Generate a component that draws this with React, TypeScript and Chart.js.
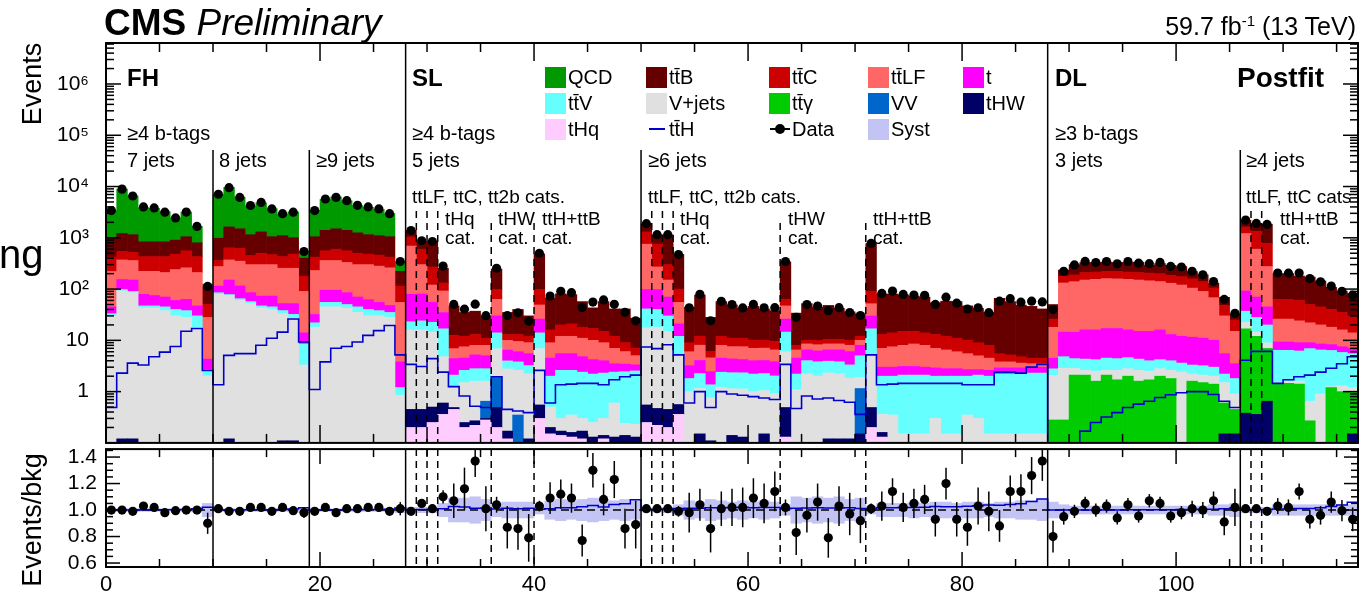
import React, { useEffect, useRef } from "react";
import { Chart, registerables } from "chart.js";

Chart.register(...registerables);

const FONT = '"Liberation Sans", Arial, Helvetica, sans-serif';
const N_BINS = 117;

// ---------- background components (events per bin), stack order bottom -> top ----------
const tHq = [
  0,0,0,0,0,0,0,0,0,0, 0,0,0,0,0,0,0,0,0, 0,0,0,0,0,0,0,0,0,
  0.2,0.2,0.25,0.36,0.45,0.2,0.22,0.28,0.2,0.12,0.1,0.1,0.3,0.15,0.14,0.13,0.12,0.1,0.12,0.1,0.1,0.1,
  0.25,0.22,0.2,0.36, 0.05,0.05,0.03,0.05,0.04,0.05,0.05,0.05,0.04, 0.13, 0,0,0,0,0,0,0, 0.2,
  0.13,0.05,0.03,0.03,0.03,0.03,0.03,0.03,0.03,0.03,0.02,0.02,0.02,0.02,0.02,0.02,
  0,0,0,0,0,0,0,0,0,0,0,0,0,0,0,0,0,0,
  0,0,0,0,0,0,0,0,0,0,0,
];
const tHW = [
  0,0.12,0.12,0,0,0,0,0,0,0, 0,0.12,0,0,0,0,0.11,0.11,0, 0,0,0,0,0,0,0,0,0,
  0.25,0.25,0.25,0.24,0.04,0.05,0.05,0.02,0.29,0.05,0,0.02,0.25,0.05,0.03,0.03,0.05,0.03,0.02,0.03,0.04,0.03,
  0.3,0.25,0.25,0.2, 0.02,0.1,0.08,0.04,0.1,0.08,0.02,0.1,0.05, 0.36, 0.03,0.02,0.02,0.12,0.12,0.12,0.15, 0.29,
  0.03,0.02,0.02,0.02,0.02,0.02,0.02,0.02,0.02,0.02,0.02,0.02,0.02,0.02,0.02,0.02,
  0,0,0,0,0,0,0,0,0,0,0,0,0,0,0,0,0.15,0.15,
  0.38,0.36,0.65,0.1,0.05,0.03,0.03,0.03,0.03,0.1,0.15,
];
const VV = [
  0,0,0,0,0,0,0,0,0,0, 0,0,0,0,0,0,0,0,0, 0,0,0,0,0,0,0,0,0,
  0,0,0,0,0,0,0,0.35,1.4,0,0.25,0,0,0,0,0,0,0,0,0,0,0,
  0,0,0,0, 0,0,0,0,0,0,0,0,0, 0, 0,0,0,0,0,0,1.0, 0,
  0,0,0,0,0,0,0,0,0,0,0,0,0,0,0,0,
  0,0,0,0,0,0,0,0,0,0,0,0,0,0,0,0,0,0,
  0,0,0,0,0,0,0,0,0,0,0,
];
const ttGamma = [
  0,0,0,0,0,0,0,0,0,0, 0,0,0,0,0,0,0,0,0, 0,0,0,0,0,0,0,0,0,
  0,0,0,0,0,0,0,0,0,0,0,0,0,0,0,0,0,0,0,0,0,0,
  0,0,0,0, 0,0,0,0,0,0,0,0,0, 0, 0,0,0,0,0,0,0, 0,
  0,0,0,0,0,0,0,0,0,0,0,0,0,0,0,0,
  0.28,0.28,2.1,2.1,1.6,2.1,1.7,2.0,1.6,1.7,2.0,1.8,0.1,1.6,1.5,1.4,0.45,0.3,
  16.4,11.6,6.3,1.35,1.4,1.37,0.24,0.07,1.17,0.9,0.85,
];
const Vjets = [
  30,92,85,43,42,38,30,28,18,2.0, 79,75,60,52,43,40,33,27,3.3, 18,45,45,42,35,30,30,28,0.85,
  15.3,15.5,14,4.2,0.69,1.25,1.33,0.95,5.0,2.6,2.25,2.1,6.35,0.3,0.13,0.19,0.13,0.12,0.16,0.47,0.1,0.1,
  17,17.5,14.5,4.4, 0.93,1.0,0.65,1.1,1.0,1.0,0.93,0.9,0.83, 5.5, 1.07,2.2,2.0,2.2,2.1,1.7,0.75, 4.6,
  0.2,0.28,0.1,0.1,0.1,0.25,0.1,0.1,0.3,0.25,0.11,0.11,0.11,0.11,0.11,0.11,
  1.8,2.57,0.75,0.5,0.9,0.5,0.9,0.8,1.0,0.8,0.8,0.8,2.3,0.6,0.6,0.6,0.9,0.45,
  5.7,2.5,2.0,0.05,0.15,0.2,0.38,0.8,0.05,0.3,0.2,
];
const ttV = [
  3,6,5,4,5,7,10,10,12,0.7, 6,3,5,5,4,5,5,5,5.2, 4,10,10,8,10,10,8,7,0.35,
  7.3,8,8,12,0.92,1.1,1.2,1.2,7.1,1.2,1.2,1.0,7.1,1.5,2.3,2.25,2.1,1.95,2.0,1.8,2.2,2.3,
  23.5,22,15,7, 0.8,1.1,0.6,1.2,1.2,1.2,1.2,1.2,1.1, 8.5, 1.1,1.8,1.8,1.6,1.6,1.5,3.1, 11.7,
  1.64,1.65,1.95,1.95,1.95,1.7,1.85,1.85,1.65,1.8,1.85,2.05,2.05,2.05,2.15,2.15,
  0.7,1.95,1.55,1.7,1.7,1.9,1.8,1.8,1.7,1.5,1.4,1.4,1.2,1.1,1.1,1.0,0.7,0.9,
  14.5,13.5,11,4.9,4.8,4.6,6.25,5.6,5.1,4.5,4.3,
];
const tSingle = [
  12,56,60,32,28,25,20,25,17,1.6, 29,72,50,28,26,28,14,20,5.5, 10,40,40,35,25,22,17,13,2.6,
  56,56,32.5,18,2.3,1.9,2.4,2.2,16,2.5,2.2,2.3,12,2.5,2.9,2.9,2.4,2.0,1.7,1.1,1.0,0.8,
  57,58,40,9, 1.4,1.8,1.1,2.1,2.0,1.9,1.8,1.8,1.8, 11.5, 2.3,2.5,2.4,2.6,2.7,2.7,3.0, 13,
  1.0,1.0,1.0,1.0,0.9,0.9,0.8,0.8,0.7,0.6,0.6,0.7,0.7,0.7,0.6,0.7,
  1.7,9.7,10,11.7,11.8,12.5,12.6,11.4,10.7,11,11.8,9,8.4,8.2,7.8,7,3.3,1.7,
  55,42,25,2.9,2.9,2.8,2.1,2.0,1.9,1.7,1.5,
];
const ttLF = [
  175,216,210,143,147,140,180,197,163,23.7, 161,220,235,215,227,227,203,203,76, 198,265,265,245,230,238,225,212,51,
  611,220,65,57,2.5,3,2.8,3,33,3.5,3.5,3.5,23,4.5,6.5,6.5,6.2,5.8,5,3.5,2.6,1.7,
  652,172,80,34, 2.8,4,2.1,3.5,3.2,3.3,3,3,2.7, 21, 2,2,2,2,2,2,2, 22,
  4,4.5,4.9,5.4,5,4.1,3.7,3.2,2.8,2.3,1.9,0.9,0.9,0.7,0.6,0.5,
  13.5,117,125,134,139,143,141,139,135,130,124,117,108,93,79,58,24.5,11.5,
  1118,530,230,16.7,16.7,15,13,11.5,9.8,8.5,7,
];
const ttC = [
  200,170,160,208,208,220,240,300,220,22, 85,270,270,150,200,170,175,225,88, 190,200,240,230,200,180,180,160,59,
  350,300,150,40,5.6,4.5,5,3,35,3,3.5,3,49,7,8,9,7,7,6,5,3,2,
  550,480,150,45, 3,4,1.5,4,3.5,3.5,3,3,3, 16, 1.5,1.5,1.8,2,2,2,2, 39,
  6,6.5,7,6.5,6,6,5.5,5,4.5,4,3.5,1.7,1.4,1.2,1.0,1.0,
  8,46,50,60,60,60,62,60,60,60,60,55,55,55,50,37,18,10,
  420,730,505,37,37,36,28,25,22,19,16,
];
const ttB = [
  580,670,630,405,405,405,420,490,370,62, 620,990,880,700,800,580,670,520,222, 630,840,900,840,750,670,640,630,108,
  360,235,565,123,34.5,23,24,19,147,22,27,18,387,51,61,57,39,26,42,29,32,20,
  570,390,840,375, 35,64,22,45,38,31,36,31,28.5, 275, 26,42,34,37.5,31.5,26,21, 679,
  67,66,62,58,56,41,46,46,37,33,27,60.5,51.8,44,41.5,36.5,
  24,57,110,120,115,115,110,115,125,87,115,105,100,60,50,26,21,8,
  560,560,1060,137,137,120,122,99,68,56,52,
];
const QCD = [
  2400,7690,5450,3045,2915,2395,1550,2120,870,13, 6020,7970,4700,3030,3500,2640,1800,2180,150, 2380,4200,4770,3850,3000,2770,2480,1930,118,
  0,0,0,0,0,0,0,0,0,0,0,0,0,0,0,0,0,0,0,0,0,0,
  0,0,0,0, 0,0,0,0,0,0,0,0,0, 0, 0,0,0,0,0,0,0, 0,
  0,0,0,0,0,0,0,0,0,0,0,0,0,0,0,0,
  0,0,0,0,0,0,0,0,0,0,0,0,0,0,0,0,0,0,
  0,0,0,0,0,0,0,0,0,0,0,
];
// ttH signal (drawn as a line, not stacked)
const ttH = [
  0.49,2.3,3.6,3.3,4.8,5.9,7.6,15,17,2.6, 1.36,5.1,5.5,5.5,8,11,14.5,26,9.3, 1.1,3.8,7,7.6,9.3,12.5,15.5,19.5,5.2,
  3.4,3.1,4.4,2.4,1.25,0.82,0.52,0.49,1.95,0.45,0.42,0.39,2.6,0.6,1.36,1.4,1.45,1.45,1.36,1.7,1.95,2.1,
  7.4,6.9,8.2,5.2, 0.6,1.0,0.49,1.0,0.9,0.85,0.8,0.75,0.7, 3.4, 0.47,0.82,0.72,0.75,0.67,0.62,0.36, 5.2,
  1.36,1.4,1.45,1.45,1.45,1.45,1.45,1.45,1.36,1.36,1.36,2.4,2.4,2.3,3.0,3.4,
  0.06,0.08,0.1,0.17,0.25,0.32,0.39,0.49,0.57,0.65,0.77,0.87,0.95,1.0,1.0,0.88,0.65,0.49,
  4.1,6.1,6.1,1.45,1.7,1.95,2.1,2.4,2.85,3.5,4.8,
];
// Data / background ratio and its statistical error
const ratio = [
  1.0,1.0,0.99,1.03,1.02,0.98,0.995,1.0,1.0,0.9, 1.01,0.99,0.99,1.02,1.02,0.99,1.02,0.995,0.98, 0.99,1.02,0.98,1.01,1.01,1.02,1.02,0.99,1.01,
  0.99,1.05,1.01,1.10,1.07,1.16,1.37,1.01,1.04,0.87,0.86,0.79,1.03,1.09,1.12,1.09,0.77,1.30,1.08,1.23,0.86,0.89,
  1.01,1.01,1.01,0.99,0.98,1.04,0.86,1.01,1.02,1.02,1.09,1.05,1.14,1.02,0.83,0.96,1.06,0.79,1.03,0.97,
  0.92,1.01,1.03,1.14,1.02,1.05,1.08,0.93,1.20,0.93,0.87,1.03,0.99,0.88,1.14,1.14,1.26,1.37,
  0.80,0.95,0.99,1.05,1.0,1.03,0.94,1.04,0.955,1.07,1.05,0.955,0.98,1.01,1.0,1.07,0.91,1.02,
  1.01,1.01,0.99,1.03,1.02,1.14,0.93,0.96,1.06,0.995,0.93,
];
const statErr = [
  0.015,0.01,0.012,0.015,0.015,0.018,0.02,0.018,0.025,0.08, 0.012,0.01,0.012,0.015,0.015,0.016,0.018,0.018,0.04, 0.017,0.013,0.012,0.013,0.015,0.016,0.017,0.018,0.05,
  0.02,0.03,0.03,0.05,0.13,0.16,0.12,0.17,0.06,0.16,0.16,0.18,0.04,0.12,0.11,0.11,0.12,0.13,0.12,0.14,0.15,0.18,
  0.02,0.02,0.02,0.04, 0.15,0.12,0.18,0.13,0.14,0.15,0.15,0.15,0.15, 0.06, 0.17,0.13,0.14,0.15,0.15,0.16,0.17, 0.04,
  0.11,0.1,0.11,0.11,0.11,0.13,0.12,0.13,0.14,0.14,0.15,0.12,0.12,0.13,0.14,0.15,
  0.12,0.06,0.05,0.05,0.05,0.05,0.05,0.05,0.05,0.05,0.05,0.05,0.05,0.06,0.06,0.07,0.1,0.14,
  0.02,0.02,0.02,0.06,0.06,0.06,0.07,0.07,0.08,0.08,0.09,
];
// Systematic uncertainty (relative) shown as band in ratio
const systErr = [
  0.01,0.01,0.01,0.01,0.01,0.01,0.01,0.01,0.015,0.05, 0.01,0.01,0.01,0.01,0.01,0.01,0.01,0.01,0.02, 0.01,0.01,0.01,0.01,0.01,0.01,0.01,0.01,0.02,
  0.02,0.02,0.02,0.05,0.09,0.09,0.1,0.08,0.05,0.06,0.06,0.06,0.03,0.07,0.08,0.07,0.08,0.09,0.08,0.07,0.08,0.07,
  0.015,0.015,0.02,0.04, 0.07,0.06,0.08,0.07,0.06,0.07,0.06,0.07,0.06, 0.04, 0.1,0.09,0.1,0.09,0.1,0.08,0.09, 0.03,
  0.05,0.05,0.05,0.06,0.05,0.06,0.06,0.05,0.06,0.06,0.05,0.06,0.06,0.07,0.07,0.08,
  0.06,0.04,0.03,0.03,0.03,0.03,0.03,0.03,0.03,0.03,0.03,0.03,0.03,0.03,0.03,0.04,0.04,0.05,
  0.02,0.02,0.02,0.04,0.04,0.04,0.04,0.04,0.04,0.04,0.04,
];

// category boundaries (bin edges)
const SEP_CHANNEL = [28, 88];
const SEP_JETS = [10, 19, 50, 106];
const SEP_CATS_A = [29, 30, 31, 51, 52, 53, 107, 108];
const SEP_CATS_B = [36, 40, 63, 71];

const TT = "tt\u0304";
const STACK = [
  { key: "tHq", label: "tHq", values: tHq, color: "#ffccff" },
  { key: "tHW", label: "tHW", values: tHW, color: "#000066" },
  { key: "VV", label: "VV", values: VV, color: "#0066cc" },
  { key: "ttg", label: TT + "\u03b3", values: ttGamma, color: "#00cc00" },
  { key: "vj", label: "V+jets", values: Vjets, color: "#e0e0e0" },
  { key: "ttV", label: TT + "V", values: ttV, color: "#66ffff" },
  { key: "t", label: "t", values: tSingle, color: "#ff00ff" },
  { key: "ttLF", label: TT + "LF", values: ttLF, color: "#ff6666" },
  { key: "ttC", label: TT + "C", values: ttC, color: "#cc0000" },
  { key: "ttB", label: TT + "B", values: ttB, color: "#660000" },
  { key: "QCD", label: "QCD", values: QCD, color: "#009900" },
];
const colorOf = (k: string) => STACK.find((s) => s.key === k)!.color;

const SUP: Record<string, string> = { "2": "\u00b2", "3": "\u00b3", "4": "\u2074", "5": "\u2075", "6": "\u2076" };

function framePlugin(cfg: any) {
  return {
    id: "frame" + cfg.name,
    beforeDatasetDraw(chart: any, args: any) {
      if (cfg.unityLine && args.index === 1) {
        const { ctx, chartArea: a, scales } = chart;
        const py = scales.y.getPixelForValue(1);
        ctx.save();
        ctx.strokeStyle = "#000";
        ctx.lineWidth = 1.6;
        ctx.setLineDash([8, 5]);
        ctx.beginPath();
        ctx.moveTo(a.left, py);
        ctx.lineTo(a.right, py);
        ctx.stroke();
        ctx.restore();
      }
    },
    afterDatasetsDraw(chart: any) {
      const { ctx, chartArea: a, scales } = chart;
      const x = scales.x, y = scales.y;
      ctx.save();
      ctx.beginPath();
      ctx.rect(a.left, a.top, a.width, a.height);
      ctx.clip();
      ctx.strokeStyle = "#000";
      ctx.lineWidth = 1.5;
      cfg.center.forEach((c: number, i: number) => {
        const e = cfg.relErr ? c * cfg.err[i] : cfg.err[i];
        const px = x.getPixelForValue(i + 0.5);
        ctx.beginPath();
        ctx.moveTo(px, y.getPixelForValue(c - e));
        ctx.lineTo(px, y.getPixelForValue(c + e));
        ctx.stroke();
      });
      ctx.restore();
    },
    afterDraw(chart: any) {
      const { ctx, chartArea: a, scales } = chart;
      const x = scales.x, y = scales.y;
      ctx.save();
      ctx.strokeStyle = "#000";
      const seg = (x1: number, y1: number, x2: number, y2: number) => {
        ctx.beginPath();
        ctx.moveTo(x1, y1);
        ctx.lineTo(x2, y2);
        ctx.stroke();
      };
      ctx.lineWidth = 1.5;
      SEP_CHANNEL.forEach((v) => seg(x.getPixelForValue(v), a.top, x.getPixelForValue(v), a.bottom));
      SEP_JETS.forEach((v) => seg(x.getPixelForValue(v), cfg.jetsTop ?? a.top, x.getPixelForValue(v), a.bottom));
      ctx.setLineDash([7, 5]);
      SEP_CATS_A.forEach((v) => seg(x.getPixelForValue(v), cfg.catsTopA ?? a.top, x.getPixelForValue(v), a.bottom));
      SEP_CATS_B.forEach((v) => seg(x.getPixelForValue(v), cfg.catsTopB ?? a.top, x.getPixelForValue(v), a.bottom));
      ctx.setLineDash([]);
      // x ticks, top and bottom
      for (let v = 0; v <= N_BINS; v += 5) {
        const px = x.getPixelForValue(v);
        const L = v % 20 === 0 ? cfg.xMajor : cfg.xMinor;
        seg(px, a.bottom, px, a.bottom - L);
        seg(px, a.top, px, a.top + L);
      }
      // y ticks, left and right
      cfg.yTicks.forEach(([v, major]: [number, boolean]) => {
        const py = y.getPixelForValue(v);
        if (py < a.top - 0.5 || py > a.bottom + 0.5) return;
        const L = major ? cfg.yMajor : cfg.yMinor;
        seg(a.left, py, a.left + L, py);
        seg(a.right, py, a.right - L, py);
      });
      ctx.lineWidth = 2;
      ctx.strokeRect(a.left, a.top, a.width, a.height);
      ctx.restore();
    },
  };
}

export default function App() {
  const topRef = useRef<HTMLCanvasElement>(null);
  const botRef = useRef<HTMLCanvasElement>(null);

  useEffect(() => {
    const bins = ttH.map((_, i) => i);
    const total = bins.map((i) => STACK.reduce((s, c) => s + c.values[i], 0));
    const dataTop = bins.map((i) => total[i] * ratio[i]);
    const sigRatio = bins.map((i) => (total[i] + ttH[i]) / total[i]);

    const logTicks: [number, boolean][] = [];
    for (let e = -1; e <= 6; e++) for (let m = 1; m <= 9; m++) logTicks.push([m * Math.pow(10, e), m === 1]);
    const ratioTicks: [number, boolean][] = [];
    for (let k = 12; k <= 29; k++) ratioTicks.push([k * 0.05, k % 4 === 0]);

    const top = new Chart(topRef.current!, {
      type: "bar",
      data: {
        datasets: [
          {
            type: "line",
            label: "Data",
            data: bins.map((i) => ({ x: i + 0.5, y: dataTop[i] })),
            showLine: false,
            pointRadius: 4.6,
            pointBackgroundColor: "#000",
            pointBorderColor: "#000",
            pointBorderWidth: 0,
          } as any,
          {
            type: "line",
            label: "ttH",
            data: [...bins.map((i) => ({ x: i, y: ttH[i] })), { x: N_BINS, y: ttH[N_BINS - 1] }],
            stepped: "before",
            borderColor: "#0000cc",
            borderWidth: 1.6,
            pointRadius: 0,
            fill: false,
          } as any,
          ...STACK.map((s) => ({
            type: "bar",
            label: s.label,
            data: bins.map((i) => ({ x: i + 0.5, y: s.values[i] > 0 ? s.values[i] : null })),
            backgroundColor: s.color,
            borderWidth: 0,
            barPercentage: 1,
            categoryPercentage: 1,
            stack: "bkg",
          })) as any,
        ],
      },
      options: {
        responsive: false,
        animation: false,
        events: [],
        layout: { padding: { left: 0, right: 5, top: 43, bottom: 12 } },
        plugins: { legend: { display: false }, tooltip: { enabled: false } },
        scales: {
          x: { type: "linear", min: 0, max: N_BINS, display: false, offset: false },
          y: {
            type: "logarithmic",
            min: 0.1,
            max: 6.3e6,
            afterFit: (s: any) => { s.width = 106; },
            afterBuildTicks: (s: any) => { s.ticks = [1, 10, 100, 1e3, 1e4, 1e5, 1e6].map((v) => ({ value: v })); },
            ticks: {
              autoSkip: false,
              color: "#000",
              padding: 17,
              font: { size: 21, family: FONT, lineHeight: 0.01 },
              callback: (v: any) => {
                const e = Math.round(Math.log10(v));
                if (e === 0) return "1";
                if (e === 1) return "10";
                return "10" + SUP[String(e)];
              },
            },
            grid: { display: false, drawTicks: false },
            border: { display: false },
          },
        },
      } as any,
      plugins: [
        framePlugin({
          name: "top", center: dataTop, err: statErr, relErr: true,
          xMajor: 18, xMinor: 9, yMajor: 15, yMinor: 8, yTicks: logTicks,
          jetsTop: 150, catsTopA: 211, catsTopB: 223,
        }),
      ],
    });

    const bot = new Chart(botRef.current!, {
      type: "bar",
      data: {
        datasets: [
          {
            type: "line",
            label: "Data/bkg",
            data: bins.map((i) => ({ x: i + 0.5, y: ratio[i] })),
            showLine: false,
            pointRadius: 4.6,
            pointBackgroundColor: "#000",
            pointBorderColor: "#000",
            pointBorderWidth: 0,
          } as any,
          {
            type: "line",
            label: "(bkg+ttH)/bkg",
            data: [...bins.map((i) => ({ x: i, y: sigRatio[i] })), { x: N_BINS, y: sigRatio[N_BINS - 1] }],
            stepped: "before",
            borderColor: "#0000cc",
            borderWidth: 1.5,
            pointRadius: 0,
            fill: false,
          } as any,
          {
            type: "bar",
            label: "Syst",
            data: bins.map((i) => ({ x: i + 0.5, y: [1 - systErr[i], 1 + systErr[i]] })),
            backgroundColor: "#c4c4f4",
            borderWidth: 0,
            barPercentage: 1,
            categoryPercentage: 1,
          } as any,
        ],
      },
      options: {
        responsive: false,
        animation: false,
        events: [],
        layout: { padding: { left: 0, right: 5, top: 8, bottom: 0 } },
        plugins: { legend: { display: false }, tooltip: { enabled: false } },
        scales: {
          x: {
            type: "linear",
            min: 0,
            max: N_BINS,
            offset: false,
            afterFit: (s: any) => { s.height = 30; },
            afterBuildTicks: (s: any) => { s.ticks = [0, 20, 40, 60, 80, 100].map((v) => ({ value: v })); },
            ticks: { autoSkip: false, maxRotation: 0, color: "#000", padding: 5, font: { size: 22, family: FONT } },
            grid: { display: false, drawTicks: false },
            border: { display: false },
          },
          y: {
            type: "linear",
            min: 0.57,
            max: 1.46,
            afterFit: (s: any) => { s.width = 106; },
            afterBuildTicks: (s: any) => { s.ticks = [0.6, 0.8, 1.0, 1.2, 1.4].map((v) => ({ value: v })); },
            ticks: {
              autoSkip: false,
              color: "#000",
              padding: 9,
              font: { size: 21, family: FONT, lineHeight: 0.01 },
              callback: (v: any) => Number(v).toFixed(1),
            },
            grid: { display: false, drawTicks: false },
            border: { display: false },
          },
        },
      } as any,
      plugins: [
        framePlugin({
          name: "bot", center: ratio, err: statErr, relErr: false, unityLine: true,
          xMajor: 15, xMinor: 8, yMajor: 14, yMinor: 7, yTicks: ratioTicks,
        }),
      ],
    });

    return () => {
      top.destroy();
      bot.destroy();
    };
  }, []);

  const txt = (x: number, y: number, size: number, content: any, extra: any = {}) => (
    <div
      style={{
        position: "absolute",
        left: x,
        top: y,
        transform: "translateY(-50%)",
        fontSize: size,
        lineHeight: 1,
        whiteSpace: "nowrap",
        fontFamily: FONT,
        color: "#000",
        ...extra,
      }}
    >
      {content}
    </div>
  );

  const legendCols = [545, 646, 769, 868, 963];
  const legendRows = [77, 103, 129];
  const box = (x: number, y: number, color: string) => (
    <div style={{ position: "absolute", left: x, top: y - 10, width: 21, height: 21, background: color }} />
  );
  const legendEntries: any[] = [
    ["QCD", 0, 0], ["ttB", 1, 0], ["ttC", 2, 0], ["ttLF", 3, 0], ["t", 4, 0],
    ["ttV", 0, 1], ["vj", 1, 1], ["ttg", 2, 1], ["VV", 3, 1], ["tHW", 4, 1],
    ["tHq", 0, 2],
  ];

  return (
    <div style={{ position: "absolute", left: 0, top: 0, width: 1363, height: 597, background: "#fff", overflow: "hidden" }}>
      <canvas ref={topRef} width={1363} height={460} style={{ position: "absolute", left: 0, top: 0, display: "block" }} />
      <canvas ref={botRef} width={1363} height={157} style={{ position: "absolute", left: 0, top: 440, display: "block" }} />

      {txt(104, 22, 37, <span><b>CMS</b> <i>Preliminary</i></span>)}
      <div style={{ position: "absolute", right: 7, top: 26, transform: "translateY(-50%)", fontSize: 25, lineHeight: 1, whiteSpace: "nowrap", fontFamily: FONT }}>
        59.7 fb<span style={{ fontSize: 15, verticalAlign: "9px" }}>-1</span> (13 TeV)
      </div>

      <div style={{ position: "absolute", left: 32, top: 84, transform: "translate(-50%,-50%) rotate(-90deg)", fontSize: 27, lineHeight: 1, whiteSpace: "nowrap", fontFamily: FONT }}>Events</div>
      <div style={{ position: "absolute", left: 32, top: 520, transform: "translate(-50%,-50%) rotate(-90deg)", fontSize: 27, lineHeight: 1, whiteSpace: "nowrap", fontFamily: FONT }}>Events/bkg</div>
      <div style={{ position: "absolute", left: -1, top: 234, fontSize: 40, lineHeight: 1, whiteSpace: "nowrap", fontFamily: FONT }}>ng</div>

      {txt(127, 78, 24, "FH", { fontWeight: "bold" })}
      {txt(412, 78, 24, "SL", { fontWeight: "bold" })}
      {txt(1055, 78, 24, "DL", { fontWeight: "bold" })}
      {txt(1237, 78, 28, "Postfit", { fontWeight: "bold" })}

      {txt(127, 133, 20, "\u22654 b-tags")}
      {txt(127, 160, 20, "7 jets")}
      {txt(219, 160, 20, "8 jets")}
      {txt(316, 160, 20, "\u22659 jets")}

      {txt(412, 133, 20, "\u22654 b-tags")}
      {txt(412, 160, 20, "5 jets")}
      {txt(648, 160, 20, "\u22656 jets")}
      {txt(412, 196, 19, "ttLF, ttC, tt2b cats.")}
      {txt(648, 196, 19, "ttLF, ttC, tt2b cats.")}
      {txt(445, 218, 19, "tHq")}
      {txt(445, 237, 19, "cat.")}
      {txt(498, 218, 19, "tHW")}
      {txt(498, 237, 19, "cat.")}
      {txt(542, 218, 19, "ttH+ttB")}
      {txt(542, 237, 19, "cat.")}
      {txt(680, 218, 19, "tHq")}
      {txt(680, 237, 19, "cat.")}
      {txt(788, 218, 19, "tHW")}
      {txt(788, 237, 19, "cat.")}
      {txt(873, 218, 19, "ttH+ttB")}
      {txt(873, 237, 19, "cat.")}

      {txt(1055, 133, 20, "\u22653 b-tags")}
      {txt(1055, 160, 20, "3 jets")}
      {txt(1246, 160, 20, "\u22654 jets")}
      {txt(1246, 196, 19, "ttLF, ttC cats")}
      {txt(1280, 218, 19, "ttH+ttB")}
      {txt(1280, 237, 19, "cat.")}

      {legendEntries.map(([k, c, r]) => (
        <React.Fragment key={k}>
          {box(legendCols[c], legendRows[r], colorOf(k))}
          {txt(legendCols[c] + 23, legendRows[r], 20, STACK.find((s) => s.key === k)!.label)}
        </React.Fragment>
      ))}
      <div style={{ position: "absolute", left: legendCols[1] + 3, top: legendRows[2] - 1, width: 16, height: 2, background: "#0000cc" }} />
      {txt(legendCols[1] + 23, legendRows[2], 20, TT + "H")}
      <div style={{ position: "absolute", left: legendCols[2] + 1, top: legendRows[2] - 1, width: 20, height: 2, background: "#000" }} />
      <div style={{ position: "absolute", left: legendCols[2] + 6, top: legendRows[2] - 5, width: 10, height: 10, borderRadius: 5, background: "#000" }} />
      {txt(legendCols[2] + 23, legendRows[2], 20, "Data")}
      {box(legendCols[3], legendRows[2], "#c4c4f4")}
      {txt(legendCols[3] + 23, legendRows[2], 20, "Syst")}
    </div>
  );
}
